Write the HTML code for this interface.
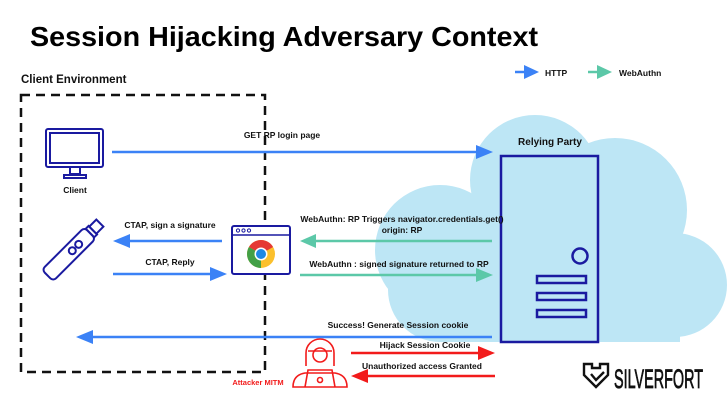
<!DOCTYPE html>
<html><head><meta charset="utf-8"><style>
html,body{margin:0;padding:0;background:#fff;}
svg{display:block;font-family:"Liberation Sans",sans-serif;}
.t{font-size:8.5px;font-weight:bold;fill:#111;}
</style></head><body>
<svg width="728" height="410" viewBox="0 0 728 410" xmlns="http://www.w3.org/2000/svg">
<text x="30" y="46" font-size="28" font-weight="bold" fill="#000" textLength="508" lengthAdjust="spacingAndGlyphs">Session Hijacking Adversary Context</text>
<text x="21" y="83" font-size="11.5" font-weight="bold" fill="#111">Client Environment</text>
<!-- legend -->
<line x1="515" y1="72" x2="528" y2="72" stroke="#3b82f6" stroke-width="2.5"/><path d="M524,65 L539,72 L524,79z" fill="#3b82f6"/>
<text x="545" y="76" class="t" font-size="10">HTTP</text>
<line x1="588" y1="72" x2="600" y2="72" stroke="#5cc8a8" stroke-width="2.5"/><path d="M597,65 L612,72 L597,79z" fill="#5cc8a8"/>
<text x="619" y="76" class="t" font-size="10">WebAuthn</text>
<!-- cloud -->
<g fill="#bde6f5">
<circle cx="535" cy="180" r="65"/>
<circle cx="440" cy="250" r="65"/>
<circle cx="615" cy="210" r="72"/>
<circle cx="675" cy="285" r="52"/>
<rect x="440" y="230" width="240" height="112"/>
<circle cx="440" cy="290" r="52"/>
</g>
<text x="550" y="145" font-size="10" font-weight="bold" fill="#111" text-anchor="middle">Relying Party</text>
<!-- server -->
<g fill="none" stroke="#1a1aa0" stroke-width="2.5">
<rect x="501" y="156" width="97" height="186"/>
<circle cx="580" cy="256" r="7.5"/>
<rect x="537" y="276" width="49" height="7"/>
<rect x="537" y="293" width="49" height="7"/>
<rect x="537" y="310" width="49" height="7"/>
</g>
<!-- dashed box -->
<rect x="21" y="95" width="244" height="277" fill="none" stroke="#111" stroke-width="2.5" stroke-dasharray="9,6"/>
<!-- monitor -->
<g fill="none" stroke="#1a1aa0" stroke-width="2">
<rect x="46" y="129" width="57" height="38" rx="2"/>
<rect x="50" y="133" width="49" height="30"/>
<path d="M70,167 v7 h10 v-7 M64,178 h22 v-3 h-22z"/>
</g>
<text x="75" y="193" class="t" text-anchor="middle" font-size="8">Client</text>
<!-- usb key -->
<g fill="none" stroke="#1a1aa0" stroke-width="2" transform="translate(73,250) rotate(-45)">
<rect x="-36" y="-8" width="60" height="16" rx="4"/>
<circle cx="8" cy="0" r="3.5"/><circle cx="-1" cy="0" r="3.5"/>
<rect x="24" y="-6" width="4" height="12"/>
<rect x="28" y="-5" width="10" height="10"/>
</g>
<!-- chrome window -->
<g>
<rect x="232" y="226" width="58" height="48" fill="#fff" stroke="#1a1aa0" stroke-width="2" rx="2"/>
<line x1="232" y1="235" x2="290" y2="235" stroke="#1a1aa0" stroke-width="1.5"/>
<circle cx="238" cy="230.5" r="1.6" fill="none" stroke="#1a1aa0"/><circle cx="243.5" cy="230.5" r="1.6" fill="none" stroke="#1a1aa0"/><circle cx="249" cy="230.5" r="1.6" fill="none" stroke="#1a1aa0"/>
<circle cx="261" cy="254" r="14" fill="#fbc02d"/>
<path d="M261,254 L248.9,247 A14,14 0 0 1 273.1,247 Z" fill="#e53935"/>
<path d="M261,254 L248.9,247 A14,14 0 0 0 261,268 Z" fill="#43a047"/>
<circle cx="261" cy="254" r="6.5" fill="#fff"/><circle cx="261" cy="254" r="5" fill="#1e88e5"/>
</g>
<!-- arrows -->
<g stroke-width="2.5">
<line x1="112" y1="152" x2="480" y2="152" stroke="#3b82f6"/><path d="M476,145 L493,152 L476,159z" fill="#3b82f6"/>
<line x1="125" y1="241" x2="222" y2="241" stroke="#3b82f6"/><path d="M130,234 L113,241 L130,248z" fill="#3b82f6"/>
<line x1="113" y1="274" x2="215" y2="274" stroke="#3b82f6"/><path d="M210,267 L227,274 L210,281z" fill="#3b82f6"/>
<line x1="312" y1="241" x2="492" y2="241" stroke="#5cc8a8"/><path d="M316,234 L300,241 L316,248z" fill="#5cc8a8"/>
<line x1="300" y1="275" x2="480" y2="275" stroke="#5cc8a8"/><path d="M476,268 L493,275 L476,282z" fill="#5cc8a8"/>
<line x1="90" y1="337" x2="492" y2="337" stroke="#3b82f6"/><path d="M93,330 L76,337 L93,344z" fill="#3b82f6"/>
<line x1="351" y1="353" x2="482" y2="353" stroke="#f21b1b"/><path d="M478,346 L495,353 L478,360z" fill="#f21b1b"/>
<line x1="364" y1="376" x2="495" y2="376" stroke="#f21b1b"/><path d="M368,369 L351,376 L368,383z" fill="#f21b1b"/>
</g>
<text x="282" y="138" class="t" text-anchor="middle" font-size="8">GET RP login page</text>
<text x="170" y="228" class="t" text-anchor="middle" font-size="8">CTAP, sign a signature</text>
<text x="170" y="265" class="t" text-anchor="middle" font-size="8">CTAP, Reply</text>
<text x="402" y="222" class="t" text-anchor="middle" font-size="8">WebAuthn: RP Triggers navigator.credentials.get()</text>
<text x="402" y="233" class="t" text-anchor="middle" font-size="8">origin: RP</text>
<text x="399" y="267" class="t" text-anchor="middle" font-size="8">WebAuthn : signed signature returned to RP</text>
<text x="398" y="328" class="t" text-anchor="middle" font-size="8">Success! Generate Session cookie</text>
<text x="425" y="348" class="t" text-anchor="middle" font-size="7.5">Hijack Session Cookie</text>
<text x="422" y="369" class="t" text-anchor="middle" font-size="7.5">Unauthorized access Granted</text>
<text x="258" y="385" font-size="7.5" font-weight="bold" fill="#f21b1b" text-anchor="middle">Attacker MITM</text>
<!-- hacker -->
<g fill="none" stroke="#f21b1b" stroke-width="1.6">
<path d="M306,366 v-13 a14,14 0 0 1 28,0 v13"/>
<path d="M308,351 h24"/>
<circle cx="320" cy="355" r="7"/>
<path d="M293,387 q0,-12 12,-14 h30 q12,2 12,14 z"/>
<path d="M305,387 l3,-17 h24 l3,17"/>
<circle cx="320" cy="380" r="2.5"/>
</g>
<!-- logo -->
<g fill="none" stroke="#111" stroke-width="2.4">
<path d="M584,364 h8 v4 h8 v-4 h8 v11 l-12,12 l-12,-12 z"/>
<path d="M591,374 l5,6 l8,-8"/>
</g>
<text x="614" y="388" font-size="27" fill="#111" stroke="#111" stroke-width="0.8" textLength="89" lengthAdjust="spacingAndGlyphs">SILVERFORT</text>
</svg>
</body></html>
